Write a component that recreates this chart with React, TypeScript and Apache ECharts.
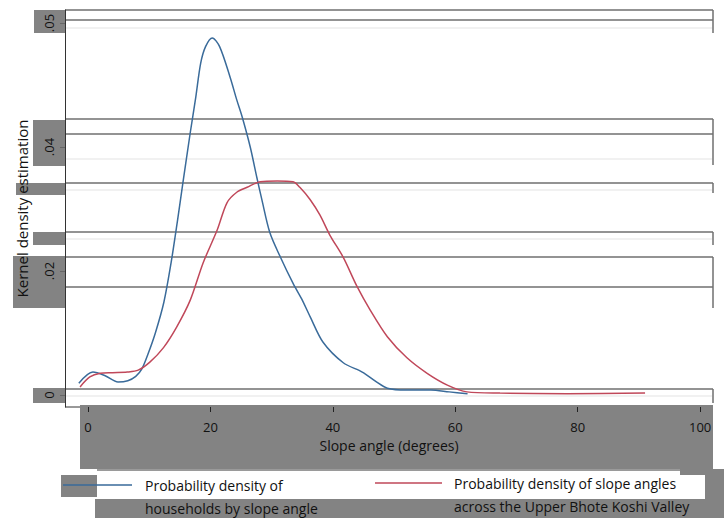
import React, { useEffect, useRef } from "react";
import * as echarts from "echarts";

// ---- data ----
const householdX = [-1.5, 0.8, 2.8, 4.9, 6.5, 7.8, 8.8, 9.8, 11.0, 12.4, 13.6, 14.6, 15.5, 16.7, 17.6, 18.4, 19.2, 20.3, 21.5, 23.2, 24.3, 25.2, 26.5, 27.6, 28.4, 29.7, 31.4, 33.5, 34.9, 36.3, 38.4, 41.7, 44.8, 47.0, 48.9, 52.0, 56.0, 59.0, 62.0];
const householdDensity = [0.0019, 0.0037, 0.0031, 0.0021, 0.0023, 0.0030, 0.0042, 0.0066, 0.0100, 0.0150, 0.0215, 0.0280, 0.0342, 0.0423, 0.0480, 0.0535, 0.0562, 0.0576, 0.0562, 0.0513, 0.0476, 0.0448, 0.0400, 0.0350, 0.0315, 0.0262, 0.0223, 0.0180, 0.0155, 0.0126, 0.0085, 0.0052, 0.0037, 0.0022, 0.0011, 0.0008, 0.0008, 0.0005, 0.0002];

const valleyX = [-1.3, 0.3, 2.0, 4.0, 6.4, 8.2, 10.1, 12.3, 14.5, 16.7, 18.8, 21.1, 22.7, 24.3, 26.0, 28.1, 30.9, 33.5, 34.6, 36.3, 37.9, 39.5, 41.7, 43.9, 46.1, 48.9, 52.1, 55.4, 58.7, 61.9, 67.3, 78.3, 91.0];
const valleyDensity = [0.0013, 0.0029, 0.0035, 0.0036, 0.0037, 0.0040, 0.0053, 0.0076, 0.0110, 0.0153, 0.0213, 0.0266, 0.0310, 0.0327, 0.0335, 0.0344, 0.0345, 0.0344, 0.0335, 0.0315, 0.0290, 0.0258, 0.0222, 0.0176, 0.0137, 0.0094, 0.0060, 0.0035, 0.0016, 0.0005, 0.0003, 0.0002, 0.0003];

const xTickValues = [0, 20, 40, 60, 80, 100];
const yTickValues = [0, 0.02, 0.04, 0.06];
const yTickLabels = ["0", ".02", ".04", ".05"];

const seriesNames = ["Probability density of households by slope angle", "Probability density of slope angles across the Upper Bhote Koshi Valley"];
const legendLabels = ["Probability density of\nhouseholds by slope angle", "Probability density of slope angles\nacross the Upper Bhote Koshi Valley"];
const xAxisTitle = "Slope angle (degrees)";
const yAxisTitle = "Kernel density estimation";

// ---- styling ----
const BLUE = "#3a6b9a";
const RED = "#c0485a";
const GRAY = "#838383";
const LINE_GRAY = "#6f6f6f";
const FAINT = "#e4e4e4";
const FONT = "Open Sans";

const zip = (xs: number[], ys: number[]) => xs.map((x, i) => [x, ys[i]]);

const grayBoxes = [
  [34, 10, 31, 23],
  [33, 120, 32, 46],
  [16, 183, 49, 12],
  [33, 232, 32, 13],
  [13, 256, 52, 52],
  [33, 388, 32, 15],
  [80, 405, 633, 64],
  [61, 475, 36, 22],
  [680, 469, 44, 6],
  [705, 475, 19, 24],
  [95, 499, 629, 19],
];
const darkLines = [10, 20, 119, 134, 183, 232, 257, 287, 389];
const faintLines = [28, 159, 190, 239, 396];
const rightSegments = [
  [10, 33],
  [119, 165],
  [183, 193],
  [232, 245],
  [257, 308],
  [389, 403],
];

export default function App() {
  const ref = useRef<HTMLDivElement>(null);
  useEffect(() => {
    if (!ref.current) return;
    const chart = echarts.init(ref.current, undefined, { renderer: "svg" });
    const graphics: any[] = [];
    grayBoxes.forEach(([x, y, w, h]) =>
      graphics.push({ type: "rect", z: 1, shape: { x, y, width: w, height: h }, style: { fill: GRAY } })
    );
    faintLines.forEach((y) =>
      graphics.push({ type: "line", z: 2, shape: { x1: 66, y1: y, x2: 712, y2: y }, style: { stroke: FAINT, lineWidth: 1.2 } })
    );
    darkLines.forEach((y) =>
      graphics.push({ type: "line", z: 3, shape: { x1: 65, y1: y, x2: 713, y2: y }, style: { stroke: LINE_GRAY, lineWidth: 1.5 } })
    );
    rightSegments.forEach(([a, b]) =>
      graphics.push({ type: "line", z: 3, shape: { x1: 713, y1: a, x2: 713, y2: b }, style: { stroke: LINE_GRAY, lineWidth: 1.5 } })
    );
    graphics.push({ type: "line", z: 3, shape: { x1: 65, y1: 407, x2: 80, y2: 407 }, style: { stroke: "#333", lineWidth: 1 } });
    graphics.push({ type: "rect", z: 2, shape: { x: 97, y: 469, width: 583, height: 2 }, style: { fill: "#9a9a9a" } });

    const option: any = {
      animation: false,
      backgroundColor: "#ffffff",
      textStyle: { fontFamily: FONT },
      grid: { left: 65, right: 11, top: 10, bottom: 111 },
      xAxis: {
        type: "value",
        min: -3.76,
        max: 102.1,
        z: 5,
        axisLine: { show: false, onZero: false },
        axisTick: { show: true, customValues: xTickValues, length: 5, lineStyle: { color: "#222" } },
        axisLabel: { customValues: xTickValues, fontSize: 13, color: "#111", margin: 13, fontFamily: FONT },
        splitLine: { show: false },
        name: xAxisTitle,
        nameLocation: "middle",
        nameGap: 31,
        nameTextStyle: { fontSize: 14, color: "#111", fontFamily: FONT },
      },
      yAxis: {
        type: "value",
        min: -0.00194,
        max: 0.0621,
        z: 5,
        axisLine: { show: true, onZero: false, lineStyle: { color: "#333", width: 1 } },
        axisTick: { show: true, customValues: yTickValues, length: 5, lineStyle: { color: "#666" } },
        axisLabel: {
          customValues: yTickValues,
          rotate: 90,
          margin: 10,
          fontSize: 13,
          color: "#111",
          fontFamily: FONT,
          formatter: (v: number) => {
            let best = 0;
            yTickValues.forEach((t, i) => {
              if (Math.abs(t - v) < Math.abs(yTickValues[best] - v)) best = i;
            });
            return yTickLabels[best];
          },
        },
        splitLine: { show: false },
        name: yAxisTitle,
        nameLocation: "middle",
        nameGap: 36,
        nameTextStyle: { fontSize: 15, color: "#111", fontFamily: FONT },
      },
      legend: [
        {
          data: [seriesNames[0]],
          left: 63,
          top: 473.5,
          padding: 0,
          itemWidth: 77,
          itemHeight: 46,
          icon: "path://M0,0L0.1,0M0,10.75H69V12.25H0ZM77,46L76.9,46",
          itemStyle: { borderWidth: 0 },
          selectedMode: false,
          z: 6,
          formatter: () => legendLabels[0],
          textStyle: { fontSize: 14, lineHeight: 23, color: "#111", fontFamily: FONT },
        },
        {
          data: [seriesNames[1]],
          left: 375,
          top: 471.5,
          padding: 0,
          itemWidth: 74,
          itemHeight: 46,
          icon: "path://M0,0L0.1,0M0,10.75H67V12.25H0ZM74,46L73.9,46",
          itemStyle: { borderWidth: 0 },
          selectedMode: false,
          z: 6,
          formatter: () => legendLabels[1],
          textStyle: { fontSize: 14, lineHeight: 23, color: "#111", fontFamily: FONT },
        },
      ],
      series: [
        {
          name: seriesNames[0],
          type: "line",
          data: zip(householdX, householdDensity),
          showSymbol: false,
          symbol: "none",
          smooth: 0.3,
          z: 6,
          color: BLUE,
          lineStyle: { color: BLUE, width: 1.5 },
        },
        {
          name: seriesNames[1],
          type: "line",
          data: zip(valleyX, valleyDensity),
          showSymbol: false,
          symbol: "none",
          smooth: 0.3,
          z: 6,
          color: RED,
          lineStyle: { color: RED, width: 1.5 },
        },
      ],
      graphic: graphics,
    };
    chart.setOption(option);
    return () => chart.dispose();
  }, []);
  return (
    <div
      ref={ref}
      style={{ position: "fixed", left: 0, top: 0, width: 724, height: 518, background: "#fff" }}
    />
  );
}
